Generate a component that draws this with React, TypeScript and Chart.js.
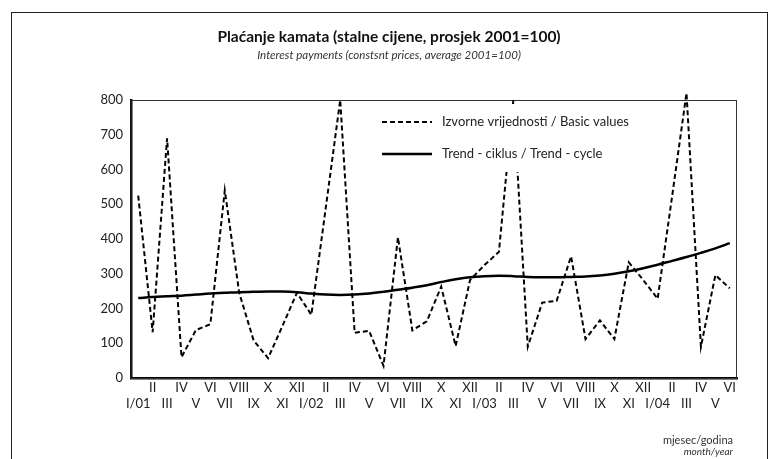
import React, { useEffect, useRef } from "react";
import { Chart, registerables } from "chart.js";

Chart.register(...registerables);

const months = [
  "I/01", "II", "III", "IV", "V", "VI", "VII", "VIII", "IX", "X", "XI", "XII",
  "I/02", "II", "III", "IV", "V", "VI", "VII", "VIII", "IX", "X", "XI", "XII",
  "I/03", "II", "III", "IV", "V", "VI", "VII", "VIII", "IX", "X", "XI", "XII",
  "I/04", "II", "III", "IV", "V", "VI",
];

const basicValues = [
  525, 132, 690, 60, 138, 155, 540, 245, 108, 57, 150, 245,
  182, 490, 800, 130, 136, 35, 405, 137, 163, 263, 92, 282,
  325, 363, 800, 90, 217, 222, 350, 112, 166, 112, 333, 282,
  228, 522, 820, 90, 296, 258,
];

const trendValues = [
  230, 233, 235, 237, 240, 243, 245, 247, 248, 249, 249, 247,
  243, 240, 239, 240, 243, 248, 254, 260, 267, 276, 284, 290,
  293, 294, 293, 291, 290, 290, 291, 292, 295, 300, 307, 316,
  326, 337, 348, 360, 373, 388,
];

const seriesNames = ["Izvorne vrijednosti / Basic values", "Trend - ciklus / Trend - cycle"];
const FONT = "Lato";

const framePlugin = {
  id: "frameAndLegend",
  beforeDatasetsDraw(chart: any) {
    const { ctx, chartArea } = chart;
    ctx.save();
    ctx.strokeStyle = "#333";
    ctx.lineWidth = 1;
    ctx.strokeRect(chartArea.left, chartArea.top + 0.5, chartArea.right - chartArea.left - 0.5, chartArea.bottom - chartArea.top);
    ctx.restore();
  },
  afterDatasetsDraw(chart: any) {
    const { ctx } = chart;
    ctx.save();
    ctx.fillStyle = "#fff";
    ctx.fillRect(372, 104, 270, 68);
    const items = [
      { y: 122, dash: [5, 3], w: 2 },
      { y: 154, dash: [], w: 2.5 },
    ];
    items.forEach((it, i) => {
      ctx.beginPath();
      ctx.setLineDash(it.dash);
      ctx.lineWidth = it.w;
      ctx.strokeStyle = "#000";
      ctx.moveTo(382, it.y);
      ctx.lineTo(432, it.y);
      ctx.stroke();
      ctx.setLineDash([]);
      ctx.fillStyle = "#222";
      ctx.font = `13px ${FONT}`;
      ctx.textBaseline = "middle";
      ctx.textAlign = "left";
      ctx.fillText(seriesNames[i], 442, it.y);
    });
    ctx.restore();
  },
};

export default function App() {
  const ref = useRef<HTMLCanvasElement>(null);
  useEffect(() => {
    if (!ref.current) return;
    const chart = new Chart(ref.current, {
      type: "line",
      data: {
        labels: months,
        datasets: [
          {
            label: seriesNames[0],
            data: basicValues,
            borderColor: "#000",
            borderWidth: 2,
            borderDash: [5, 3],
            pointRadius: 0,
            tension: 0,
            fill: false,
            clip: false as any,
          },
          {
            label: seriesNames[1],
            data: trendValues,
            borderColor: "#000",
            borderWidth: 2.5,
            pointRadius: 0,
            tension: 0.4,
            fill: false,
          },
        ],
      },
      plugins: [framePlugin],
      options: {
        animation: false,
        responsive: false,
        maintainAspectRatio: false,
        layout: { padding: { left: 0, right: 41, top: 100, bottom: 0 } },
        plugins: {
          legend: { display: false },
          title: { display: false },
          tooltip: { enabled: false },
        },
        scales: {
          x: {
            type: "category",
            offset: true,
            grid: { display: false, drawTicks: false },
            border: { display: true, color: "#000", width: 2.5 },
            ticks: {
              autoSkip: false,
              maxRotation: 0,
              minRotation: 0,
              padding: 2,
              color: "#222",
              font: { family: FONT, size: 13, lineHeight: 16 / 13 },
              callback: (_v: any, i: number) => (i % 2 === 0 ? ["", months[i]] : [months[i], ""]),
            },
            afterFit: (scale: any) => {
              scale.height = 81;
            },
          },
          y: {
            min: 0,
            max: 800,
            grid: { display: false, drawTicks: false },
            border: { display: true, color: "#000", width: 2.5 },
            ticks: {
              stepSize: 100,
              padding: 8,
              color: "#222",
              font: { family: FONT, size: 13 },
            },
            afterFit: (scale: any) => {
              scale.width = 131;
            },
          },
        },
      },
    });
    return () => chart.destroy();
  }, []);

  return (
    <div style={{ position: "absolute", left: 0, top: 0, width: 778, height: 459, background: "#fff", overflow: "hidden", fontFamily: FONT, color: "#222" }}>
      <div style={{ position: "absolute", left: 11, top: 12, width: 755, height: 460, borderLeft: "1px solid #222", borderTop: "1px solid #222", borderRight: "1px solid #222" }} />
      <canvas ref={ref} width={778} height={459} style={{ position: "absolute", left: 0, top: 0, width: 778, height: 459 }} />
      <div style={{ position: "absolute", left: 0, width: 778, top: 27, textAlign: "center", fontWeight: 700, fontSize: 15.5, lineHeight: "19px", color: "#111" }}>
        Plaćanje kamata (stalne cijene, prosjek 2001=100)
      </div>
      <div style={{ position: "absolute", left: 0, width: 778, top: 47, textAlign: "center", fontStyle: "italic", fontSize: 11.5, lineHeight: "16px", color: "#333" }}>
        Interest payments (constsnt prices, average 2001=100)
      </div>
      <div style={{ position: "absolute", right: 45, top: 433, textAlign: "right", fontSize: 11, lineHeight: "13px", color: "#333" }}>
        mjesec/godina
      </div>
      <div style={{ position: "absolute", right: 45, top: 446, textAlign: "right", fontStyle: "italic", fontSize: 10, lineHeight: "11px", color: "#333" }}>
        month/year
      </div>
    </div>
  );
}
